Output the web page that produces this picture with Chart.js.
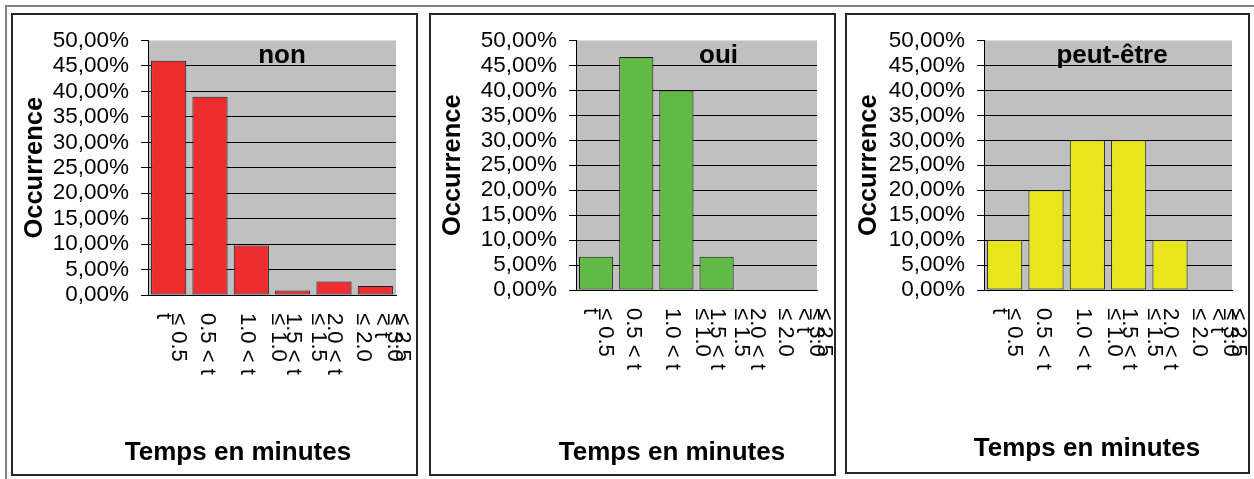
<!DOCTYPE html>
<html><head><meta charset="utf-8">
<script src="https://cdn.jsdelivr.net/npm/chart.js@4.4.1/dist/chart.umd.min.js"></script>
<style>
html,body{margin:0;padding:0;background:#fff;width:1254px;height:479px;overflow:hidden;position:relative;font-family:"Liberation Sans",Arial,sans-serif;}
.hline{position:absolute;left:5px;top:5px;width:1249px;height:2px;background:#808080;}
.vline{position:absolute;left:5px;top:5px;width:2px;height:474px;background:#808080;}
.panel{position:absolute;border:2px solid #262626;}
.panel canvas{display:block;}
</style></head><body>
<div class="hline"></div><div class="vline"></div>
<div class="panel" style="left:11px;top:13px;width:403px;height:459px"><canvas id="c1" width="403" height="459"></canvas></div>
<div class="panel" style="left:429px;top:13px;width:403px;height:459px"><canvas id="c2" width="403" height="459"></canvas></div>
<div class="panel" style="left:845px;top:13px;width:401px;height:457px"><canvas id="c3" width="401" height="457"></canvas></div>
<script>
// ---- data ----
const categories = ["t ≤ 0.5", "0.5 < t ≤ 1.0", "1.0 < t ≤ 1.5", "1.5 < t ≤ 2.0", "2.0 < t ≤ 2.5", "2.5 < t ≤ 3.0"];
const nonValues = [46.02, 38.94, 9.73, 0.88, 2.65, 1.77];
const ouiValues = [6.67, 46.67, 40.00, 6.67, 0, 0];
const peutValues = [10, 20, 30, 30, 10, 0];
const panelTitles = ["non", "oui", "peut-être"];
const yAxisTitle = "Occurrence";
const xAxisTitle = "Temps en minutes";
// tick label text as it appears (overlapping, rotated) under each category
const tickLabelLines = [["t", "≤ 0.5"], ["0.5 < t"], ["1.0 < t"], ["≤ 1.0", "1.5 < t"], ["≤ 1.5", "2.0 < t"], ["≤ 2.0", "< t", "≤ 3.0", "≤ 2.5"]];
const yMax = 50, yStep = 5;

// ---- layout / style ----
const tickLabelOffsets = [[-6, 9], [-3], [-4], [-15, 0], [-16, 0], [-12, 6, 19, 27]];
const FONT = '"Liberation Sans", Arial, sans-serif';
const panels = [
  {id: 'c1', values: nonValues, color: '#EE2E2E', title: panelTitles[0], yW: 135, padR: 20, xH: 179, titleDx: 10, xTitleX: 225, xTitleY: 438},
  {id: 'c2', values: ouiValues, color: '#62BA46', title: panelTitles[1], yW: 145, padR: 17, xH: 184, titleDx: 22, xTitleX: 241, xTitleY: 438},
  {id: 'c3', values: peutValues, color: '#EAE61E', title: panelTitles[2], yW: 137, padR: 16, xH: 182, titleDx: 4, xTitleX: 240, xTitleY: 434}
];

const decor = {
  id: 'decor',
  beforeDraw(chart, args, opts) {
    const {ctx, chartArea: a} = chart;
    ctx.save();
    ctx.fillStyle = '#C0C0C0';
    ctx.fillRect(a.left, a.top, a.right - a.left, a.bottom - a.top);
    ctx.restore();
  },
  afterDraw(chart, args, opts) {
    const {ctx, chartArea: a} = chart;
    const x = chart.scales.x;
    ctx.save();
    ctx.fillStyle = '#000';
    ctx.font = 'bold 26px ' + FONT;
    ctx.textAlign = 'center';
    ctx.textBaseline = 'alphabetic';
    ctx.fillText(opts.title, (a.left + a.right) / 2 + opts.titleDx, a.top + 22);
    ctx.textBaseline = 'middle';
    ctx.fillText(xAxisTitle, opts.xTitleX, opts.xTitleY);
    ctx.font = '22px ' + FONT;
    ctx.textAlign = 'left';
    tickLabelLines.forEach((lines, i) => {
      const cx = x.getPixelForValue(i);
      lines.forEach((s, j) => {
        ctx.save();
        ctx.translate(cx + tickLabelOffsets[i][j], x.top + 18);
        ctx.rotate(Math.PI / 2);
        ctx.fillText(s, 0, 0);
        ctx.restore();
      });
    });
    ctx.restore();
  }
};

panels.forEach(p => {
  new Chart(document.getElementById(p.id), {
    type: 'bar',
    data: {
      labels: categories,
      datasets: [{
        data: p.values,
        backgroundColor: p.color,
        borderColor: '#1a1a1a',
        borderWidth: 1,
        borderSkipped: false,
        categoryPercentage: 1,
        barPercentage: 0.85
      }]
    },
    plugins: [decor],
    options: {
      responsive: false,
      animation: false,
      devicePixelRatio: 1,
      layout: {padding: {top: 19, right: p.padR, left: 0, bottom: 0}},
      plugins: {
        legend: {display: false},
        tooltip: {enabled: false},
        title: {display: false},
        decor: {title: p.title, titleDx: p.titleDx, xTitleX: p.xTitleX, xTitleY: p.xTitleY}
      },
      scales: {
        x: {
          grid: {display: true, color: 'rgba(0,0,0,0)', drawTicks: false},
          border: {display: true, color: '#000', width: 1},
          ticks: {display: false},
          afterFit(s) { s.height = p.xH; }
        },
        y: {
          min: 0, max: yMax,
          grid: {
            color: c => (c.tick && c.tick.value === yMax) ? 'rgba(0,0,0,0)' : '#000',
            tickColor: '#000',
            tickLength: 7,
            lineWidth: 1
          },
          border: {display: true, color: '#000', width: 1},
          ticks: {
            stepSize: yStep,
            autoSkip: false,
            padding: 12,
            color: '#000',
            font: {family: FONT, size: 22.5},
            callback: v => v.toFixed(2).replace('.', ',') + '%'
          },
          title: {
            display: true,
            text: yAxisTitle,
            color: '#000',
            font: {family: FONT, size: 25.5, weight: 'bold'},
            padding: {top: 7, bottom: 0}
          },
          afterFit(s) { s.width = p.yW; }
        }
      }
    }
  });
});
</script>
</body></html>
